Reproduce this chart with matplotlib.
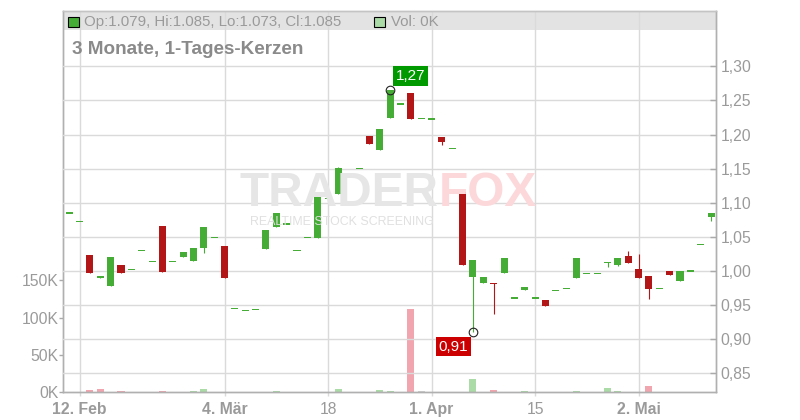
import matplotlib
matplotlib.use('Agg')
import matplotlib.pyplot as plt
from matplotlib.patches import Rectangle

plt.rcParams['font.family'] = ['Liberation Sans', 'DejaVu Sans']

# Tageskerzen, Index = Handelstag (12. Feb .. Mai)
opens = [1.085, 1.073, 1.0235, 0.9895, 0.9785, 1.0088, 1.0025, 1.0303, 1.0142, 1.066,
         1.0142, 1.021, 1.0151, 1.0342, 1.0494, 1.0367, 0.9453, 0.9424, 0.9438, 1.0327,
         1.065, 1.0689, 1.0303, 1.0494, 1.0484, 1.1066, 1.1134, 1.1374, 1.1506, 1.198,
         1.1779, 1.2248, 1.2449, 1.261, 1.2239, 1.2229, 1.1965, 1.180, 1.1158, 0.9917,
         0.9828, 0.982, 0.9975, 0.9604, 0.9726, 0.9604, 0.9575, 0.9717, 0.9746, 0.9902,
         0.9966, 0.9966, 1.0128, 1.0092, 1.022, 1.0029, 0.9927, 0.9746, 1.000, 0.9858,
         1.000, 1.0391, 1.079]
highs = [1.085, 1.073, 1.0235, 0.9925, 1.0205, 1.0088, 1.0025, 1.0303, 1.0142, 1.066,
         1.0142, 1.0279, 1.0337, 1.0645, 1.0494, 1.0367, 0.9453, 0.9424, 0.9438, 1.060,
         1.0846, 1.0689, 1.0303, 1.0494, 1.1129, 1.1066, 1.152, 1.1374, 1.1506, 1.198,
         1.2082, 1.2654, 1.2449, 1.261, 1.2239, 1.2229, 1.1965, 1.180, 1.1158, 1.0161,
         0.9912, 0.982, 1.019, 0.9604, 0.9765, 0.9604, 0.9575, 0.9717, 0.9746, 1.019,
         0.9966, 0.9966, 1.0128, 1.019, 1.0293, 1.025, 0.9927, 0.9746, 1.000, 1.000,
         1.000, 1.0391, 1.085]
lows = [1.085, 1.073, 0.9975, 0.9895, 0.9785, 0.9975, 1.0025, 1.0303, 1.0142, 0.999,
        1.0142, 1.021, 1.0151, 1.027, 1.0494, 0.990, 0.9453, 0.9424, 0.9438, 1.0327,
        1.065, 1.0689, 1.0303, 1.0494, 1.0484, 1.1066, 1.1134, 1.1374, 1.1506, 1.1867,
        1.1779, 1.2248, 1.2449, 1.2233, 1.2239, 1.2229, 1.185, 1.180, 1.0088, 0.910,
        0.9828, 0.937, 0.9975, 0.9604, 0.9726, 0.9604, 0.949, 0.9717, 0.9746, 0.9902,
        0.9966, 0.9966, 1.0054, 1.008, 1.0122, 0.990, 0.9594, 0.9746, 0.9946, 0.9858,
        1.000, 1.0391, 1.073]
closes = [1.085, 1.073, 0.9975, 0.9925, 1.0205, 0.9975, 1.0025, 1.0303, 1.0142, 0.999,
          1.0142, 1.0279, 1.0337, 1.0645, 1.0494, 0.990, 0.9453, 0.9424, 0.9438, 1.060,
          1.0846, 1.0689, 1.0303, 1.0494, 1.1129, 1.1066, 1.1506, 1.1374, 1.1506, 1.1867,
          1.2082, 1.2654, 1.2449, 1.2233, 1.2239, 1.2229, 1.1896, 1.180, 1.0088, 1.0161,
          0.9912, 0.9815, 1.019, 0.9604, 0.9765, 0.9604, 0.949, 0.9717, 0.9746, 1.019,
          0.9966, 0.9966, 1.0128, 1.019, 1.0122, 0.990, 0.974, 0.9746, 0.9946, 1.000,
          1.000, 1.0391, 1.085]
# Volumen in Tausend
volumes = [0, 0, 3.1, 4.4, 0, 1.8, 0, 0, 0, 1.8,
           0, 0, 1.8, 4.4, 0, 0, 0, 0, 0, 0,
           1.8, 0, 0, 0, 0, 0, 4.0, 0, 0, 0,
           2.7, 1.3, 0, 111, 1.3, 0, 0, 0, 0, 17.4,
           0, 2.7, 0, 0, 1.3, 0, 0, 0, 0, 1.3,
           0, 0, 5.4, 1.3, 0, 0, 8.0, 0, 0, 0,
           0, 0, 0]

tick_pos = [1, 15, 25, 35, 45, 55]
tick_labels = ['12. Feb', '4. Mär', '18', '1. Apr', '15', '2. Mai']
tick_bold = [True, True, False, True, False, True]
price_ticks = [0.85, 0.90, 0.95, 1.00, 1.05, 1.10, 1.15, 1.20, 1.25, 1.30]
vol_ticks = [0, 50, 100, 150]

GREEN = '#45ad35'
RED = '#b21616'
GRID = '#dadada'
TXT = '#9a9a9a'

W, H = 800, 420
fig = plt.figure(figsize=(8, 4.2), dpi=100)
ax_v = fig.add_axes([63.3 / W, (H - 392.3) / H, 653 / W, 381.3 / H])
ax_p = ax_v.twinx()

n = len(closes)
ax_v.set_xlim(-0.575, 62.505)
ax_v.set_ylim(0, 510.7)
ax_p.set_ylim(0.8222, 1.3811)

# Kopfzeile (grauer Balken)
ax_v.add_patch(Rectangle((0, 0.9501), 1, 0.0499, transform=ax_v.transAxes,
                         facecolor='#e3e3e3', edgecolor='none', zorder=0))

# Wasserzeichen
fig.text(240 / W, 1 - 206 / H, 'TRADER', fontsize=34.4, fontweight='bold',
         color='#e6e6e6', ha='left', va='baseline', zorder=0.5)
fig.text(438.7 / W, 1 - 206 / H, 'FOX', fontsize=34.4, fontweight='bold',
         color='#fcd8db', ha='left', va='baseline', zorder=0.5)
fig.text(250 / W, 1 - 225 / H, 'REALTIME STOCK SCREENING', fontsize=8.9,
         color='#e0e0e0', ha='left', va='baseline', zorder=0.5)

# Volumenbalken
for i in range(n):
    if volumes[i] <= 0:
        continue
    diff = closes[i] - closes[i - 1] if i > 0 else 0
    if abs(diff) < 0.001:
        col = '#d0d0d0'
    elif diff > 0:
        col = '#abdba6'
    else:
        col = '#f0a5af'
    ax_v.bar(i, volumes[i], width=0.68, color=col, linewidth=0, zorder=2)

# Kerzen
for i in range(n):
    o, h, l, c = opens[i], highs[i], lows[i], closes[i]
    col = GREEN if c >= o else RED
    ax_p.vlines(i, l, h, color=col, linewidth=0.8, zorder=3)
    if abs(c - o) < 0.002:
        ax_p.bar(i, 0.002, bottom=(o + c) / 2 - 0.001, width=0.68, color=col,
                 linewidth=0, zorder=4)
    else:
        ax_p.bar(i, abs(c - o), bottom=min(o, c), width=0.68, color=col,
                 linewidth=0, zorder=4)

# Hoch / Tief Markierung
i_hi = highs.index(max(highs))
i_lo = lows.index(min(lows))
ax_p.plot([i_hi], [highs[i_hi]], marker='o', markersize=6.2, markerfacecolor='none',
          markeredgecolor='#222222', markeredgewidth=0.8, zorder=6)
ax_p.plot([i_lo], [lows[i_lo]], marker='o', markersize=6.2, markerfacecolor='none',
          markeredgecolor='#222222', markeredgewidth=0.8, zorder=6)
ax_p.annotate(f'{highs[i_hi]:.2f}'.replace('.', ','), xy=(i_hi, highs[i_hi]),
              xytext=(14.6, 10.0), textcoords='offset points', ha='center', va='center',
              fontsize=11, color='white',
              bbox=dict(boxstyle='square,pad=0.18', facecolor='#009a00', edgecolor='none'),
              zorder=7)
ax_p.annotate(f'{lows[i_lo]:.2f}'.replace('.', ','), xy=(i_lo, lows[i_lo]),
              xytext=(-14.3, -10.2), textcoords='offset points', ha='center', va='center',
              fontsize=11, color='white',
              bbox=dict(boxstyle='square,pad=0.18', facecolor='#cc0000', edgecolor='none'),
              zorder=7)

# Achsen
ax_p.set_yticks(price_ticks)
ax_p.set_yticklabels([f'{t:.2f}'.replace('.', ',') for t in price_ticks])
ax_p.tick_params(axis='y', direction='in', length=4, width=1, color='#aaaaaa',
                 labelsize=11.3, labelcolor=TXT, pad=3)
ax_p.grid(axis='y', color=GRID, linewidth=1)
ax_p.set_axisbelow(False)

ax_v.set_yticks(vol_ticks)
ax_v.set_yticklabels([f'{t}K' for t in vol_ticks])
ax_v.tick_params(axis='y', direction='out', length=3, width=1, color='#aaaaaa',
                 labelsize=11.3, labelcolor=TXT, pad=0.5)

ax_v.set_xticks(tick_pos)
ax_v.set_xticklabels(tick_labels)
ax_v.tick_params(axis='x', direction='out', length=3, width=1, color=GRID,
                 labelsize=11.3, labelcolor=TXT, pad=4)
for lab, b in zip(ax_v.get_xticklabels(), tick_bold):
    lab.set_fontweight('bold' if b else 'normal')
ax_v.grid(axis='x', color=GRID, linewidth=1, zorder=1)
ax_v.set_axisbelow(True)

for a in (ax_v, ax_p):
    for s in ('left', 'right', 'bottom'):
        a.spines[s].set_color('#b0b0b0')
        a.spines[s].set_linewidth(1)
    a.spines['top'].set_color('#c4c4c4')
    a.spines['top'].set_linewidth(1)
ax_p.patch.set_visible(False)

# Kopfzeile Texte
fig.add_artist(Rectangle((68.3 / W, 1 - 26.7 / H), 10.7 / W, 10 / H, transform=fig.transFigure,
                         facecolor=GREEN, edgecolor='black', linewidth=0.8))
fig.text(84 / W, 1 - 26 / H,
         f'Op:{opens[-1]:.3f}, Hi:{highs[-1]:.3f}, Lo:{lows[-1]:.3f}, Cl:{closes[-1]:.3f}',
         fontsize=10.8, color=TXT, ha='left', va='baseline')
fig.add_artist(Rectangle((374.3 / W, 1 - 26.7 / H), 10.7 / W, 10 / H, transform=fig.transFigure,
                         facecolor='#abdba6', edgecolor='black', linewidth=0.8))
fig.text(390.7 / W, 1 - 26 / H, f'Vol: {volumes[-1]:.0f}K', fontsize=10.8, color=TXT,
         ha='left', va='baseline')

fig.text(72 / W, 1 - 54 / H, '3 Monate, 1-Tages-Kerzen', fontsize=13.6, fontweight='bold',
         color='#8a8a8a', ha='left', va='baseline')

fig.savefig('out.png', dpi=100)
